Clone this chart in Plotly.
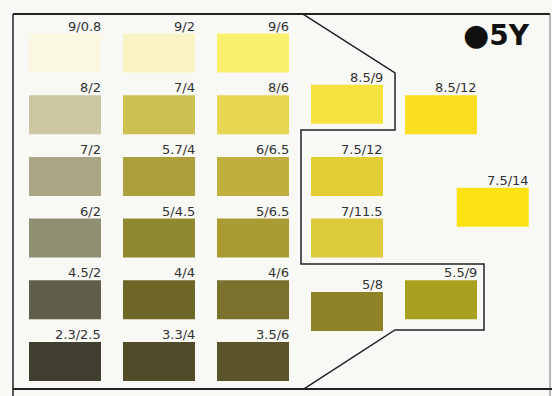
import plotly.graph_objects as go

# Munsell 5Y chips: label (value/chroma), printed colour, slot in the grid
labels = ["9/0.8", "8/2", "7/2", "6/2", "4.5/2", "2.3/2.5",
          "9/2", "7/4", "5.7/4", "5/4.5", "4/4", "3.3/4",
          "9/6", "8/6", "6/6.5", "5/6.5", "4/6", "3.5/6",
          "8.5/9", "7.5/12", "7/11.5", "5/8",
          "8.5/12", "5.5/9", "7.5/14"]
colors = ["#fbf8e2", "#cac7a2", "#a9a685", "#8f8f74", "#5e5e4a", "#3f3e2f",
          "#faf3c3", "#cdc052", "#aba03c", "#908731", "#6f6728", "#504b28",
          "#fbf06b", "#e8d552", "#c0af3e", "#a99b31", "#7a712c", "#5b542b",
          "#f6e23e", "#e2cf36", "#dcc93c", "#8e8329",
          "#fbdd22", "#aaa020", "#fde214"]
grid_col = [0, 0, 0, 0, 0, 0,
            1, 1, 1, 1, 1, 1,
            2, 2, 2, 2, 2, 2,
            3, 3, 3, 3,
            4, 4, 4.55]
grid_row = [0, 1, 2, 3, 4, 5,
            0, 1, 2, 3, 4, 5,
            0, 1, 2, 3, 4, 5,
            0.83, 2, 3, 4.19,
            1, 4, 2.5]

W, H = 552, 396
COL_PX, ROW_PX = 94, 61.7      # pixel spacing of one grid step
X0_PX, Y0_PX = 65, 53          # pixel centre of slot (0, 0)
chip_w = 72 / COL_PX
chip_h = 39 / ROW_PX

fig = go.Figure()

# swatches as bars hanging from their top edge
fig.add_trace(go.Bar(
    x=grid_col,
    y=[chip_h] * len(labels),
    base=[r - chip_h / 2 for r in grid_row],
    width=chip_w,
    marker=dict(color=colors, line=dict(width=0)),
    hoverinfo="skip",
))

# labels right-aligned above each chip
for lab, c, r in zip(labels, grid_col, grid_row):
    fig.add_annotation(
        x=c + chip_w / 2, y=r - chip_h / 2 - 7.5 / ROW_PX,
        text=lab, showarrow=False, xanchor="right", yanchor="middle",
        xshift=2, font=dict(family="DejaVu Sans", size=13, color="#333333"),
    )


def P(px, py):
    return px / W, 1 - py / H


def line(x1, y1, x2, y2, width, color="#222222"):
    a, b = P(x1, y1)
    c, d = P(x2, y2)
    fig.add_shape(type="line", xref="paper", yref="paper", x0=a, y0=b, x1=c, y1=d,
                  line=dict(color=color, width=width))


# frame
line(13, 14, 550, 14, 2)
line(13, 14, 13, 396, 1.5)
line(550, 14, 550, 396, 1, "#777777")
line(13, 389, 552, 389, 2)

# outline around the group of chips
pts = [(303, 14), (395, 73), (395, 130), (301, 130), (301, 264),
       (484, 264), (484, 330), (395, 330), (304, 389)]
path = "M " + " L ".join("%.4f,%.4f" % P(px, py) for px, py in pts)
fig.add_shape(type="path", xref="paper", yref="paper", path=path,
              line=dict(color="#222222", width=1.5))

# hue title
tx, ty = P(532, 34)
fig.add_annotation(
    x=tx, y=ty, xref="paper", yref="paper", xanchor="right", yanchor="middle",
    showarrow=False,
    text="<span style='font-size:30px'>●</span><b>5Y</b>",
    font=dict(family="DejaVu Sans", size=28, color="#111111"),
)

fig.update_layout(
    width=W, height=H,
    margin=dict(l=0, r=0, t=0, b=0),
    paper_bgcolor="#f8f8f5",
    plot_bgcolor="#f8f8f5",
    showlegend=False,
    xaxis=dict(range=[-X0_PX / COL_PX, (W - X0_PX) / COL_PX], visible=False, fixedrange=True),
    yaxis=dict(range=[(H - Y0_PX) / ROW_PX, -Y0_PX / ROW_PX], visible=False, fixedrange=True),
)

fig.write_html("out.html", config={"displayModeBar": False},
               post_script="document.body.style.margin='0';document.body.style.overflow='hidden';")
